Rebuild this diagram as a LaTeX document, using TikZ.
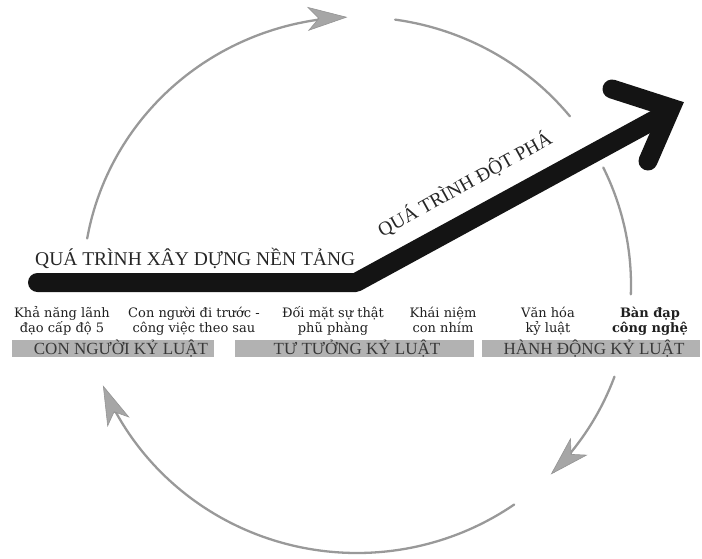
\documentclass[tikz,border=0pt]{standalone}
\usepackage{fontspec}
\setmainfont{Liberation Serif}
\newfontfamily\labfont{DejaVu Serif}
\usetikzlibrary{arrows.meta}
\begin{document}
\begin{tikzpicture}[x=1pt,y=-1pt,
  circarc/.style={draw=black!40, line width=2.3pt, line cap=round},
  circtip/.style={-{Stealth[length=40pt,width=24pt,inset=11pt,fill=black!35,color=black!42,line width=0.6pt]}},
  barbox/.style={fill=black!30, draw=none, inner sep=0pt, minimum height=17pt},
  bartext/.style={font=\fontsize{17}{17}\selectfont, text=black!78, inner sep=0pt},
  lab/.style={font=\labfont\fontsize{13}{15}\selectfont, align=center, text=black!88, inner sep=0pt},
  labbold/.style={lab, font=\labfont\bfseries\fontsize{13}{15}\selectfont},
  titletext/.style={font=\fontsize{19.5}{20}\selectfont, text=black!85, inner sep=0pt},
  bigarrow/.style={draw=black!92, line width=19pt}]
\useasboundingbox (0,0) rectangle (702,558);

% ---- cycle arcs (ellipse centre (357,285), radii 274 x 268)
\draw[circarc, circtip] plot[domain=170:92, samples=60, smooth] ({357+274*cos(\x)},{285-268*sin(\x)});
\draw[circarc] plot[domain=82:39, samples=40, smooth] ({357+274*cos(\x)},{285-268*sin(\x)});
\draw[circarc] plot[domain=26:-2, samples=30, smooth] ({357+274*cos(\x)},{285-268*sin(\x)});
\draw[circarc, circtip] plot[domain=-20:-45, samples=30, smooth] ({357+274*cos(\x)},{285-268*sin(\x)});
\draw[circarc, circtip] plot[domain=-55:-158, samples=80, smooth] ({357+274*cos(\x)},{285-268*sin(\x)});

% ---- big black arrow
\coordinate (a0) at (37.5,282.5);
\coordinate (a1) at (356,282.5);
\coordinate (a2) at (667,113);
\coordinate (tip) at (671,108);
\coordinate (armU) at (612,89);
\coordinate (armL) at (648,161);
\draw[bigarrow, line cap=round, line join=round] (a0) -- (a1) -- (a2);
\draw[bigarrow, line cap=round, line join=miter] (armU) -- (tip) -- (armL);

% ---- titles
\node[titletext, anchor=base west] (t1) at (35,265) {QUÁ TRÌNH XÂY DỰNG NỀN TẢNG};
\node[titletext, anchor=base, rotate=29] (t2) at (468,190) {QUÁ TRÌNH ĐỘT PHÁ};

% ---- labels (anchor = baseline of the second line)
\node[lab, anchor=base] (l1) at (62,332) {Khả năng lãnh\\đạo cấp độ 5};
\node[lab, anchor=base] (l2) at (194,332) {Con người đi trước -\\công việc theo sau};
\node[lab, anchor=base] (l3) at (333,332) {Đối mặt sự thật\\phũ phàng};
\node[lab, anchor=base] (l4) at (443,332) {Khái niệm\\con nhím};
\node[lab, anchor=base] (l5) at (548,332) {Văn hóa\\kỷ luật};
\node[labbold, anchor=base] (l6) at (650,332) {Bàn đạp\\công nghệ};

% ---- bars
\node[barbox, minimum width=202pt, anchor=north west] (b1) at (12,340) {};
\node[barbox, minimum width=239pt, anchor=north west] (b2) at (235,340) {};
\node[barbox, minimum width=218pt, anchor=north west] (b3) at (482,340) {};
\node[bartext, anchor=base] (c1) at (121,354.5) {CON NGƯỜI KỶ LUẬT};
\node[bartext, anchor=base] (c2) at (357,354.5) {TƯ TƯỞNG KỶ LUẬT};
\node[bartext, anchor=base] (c3) at (594,354.5) {HÀNH ĐỘNG KỶ LUẬT};
\end{tikzpicture}
\end{document}
